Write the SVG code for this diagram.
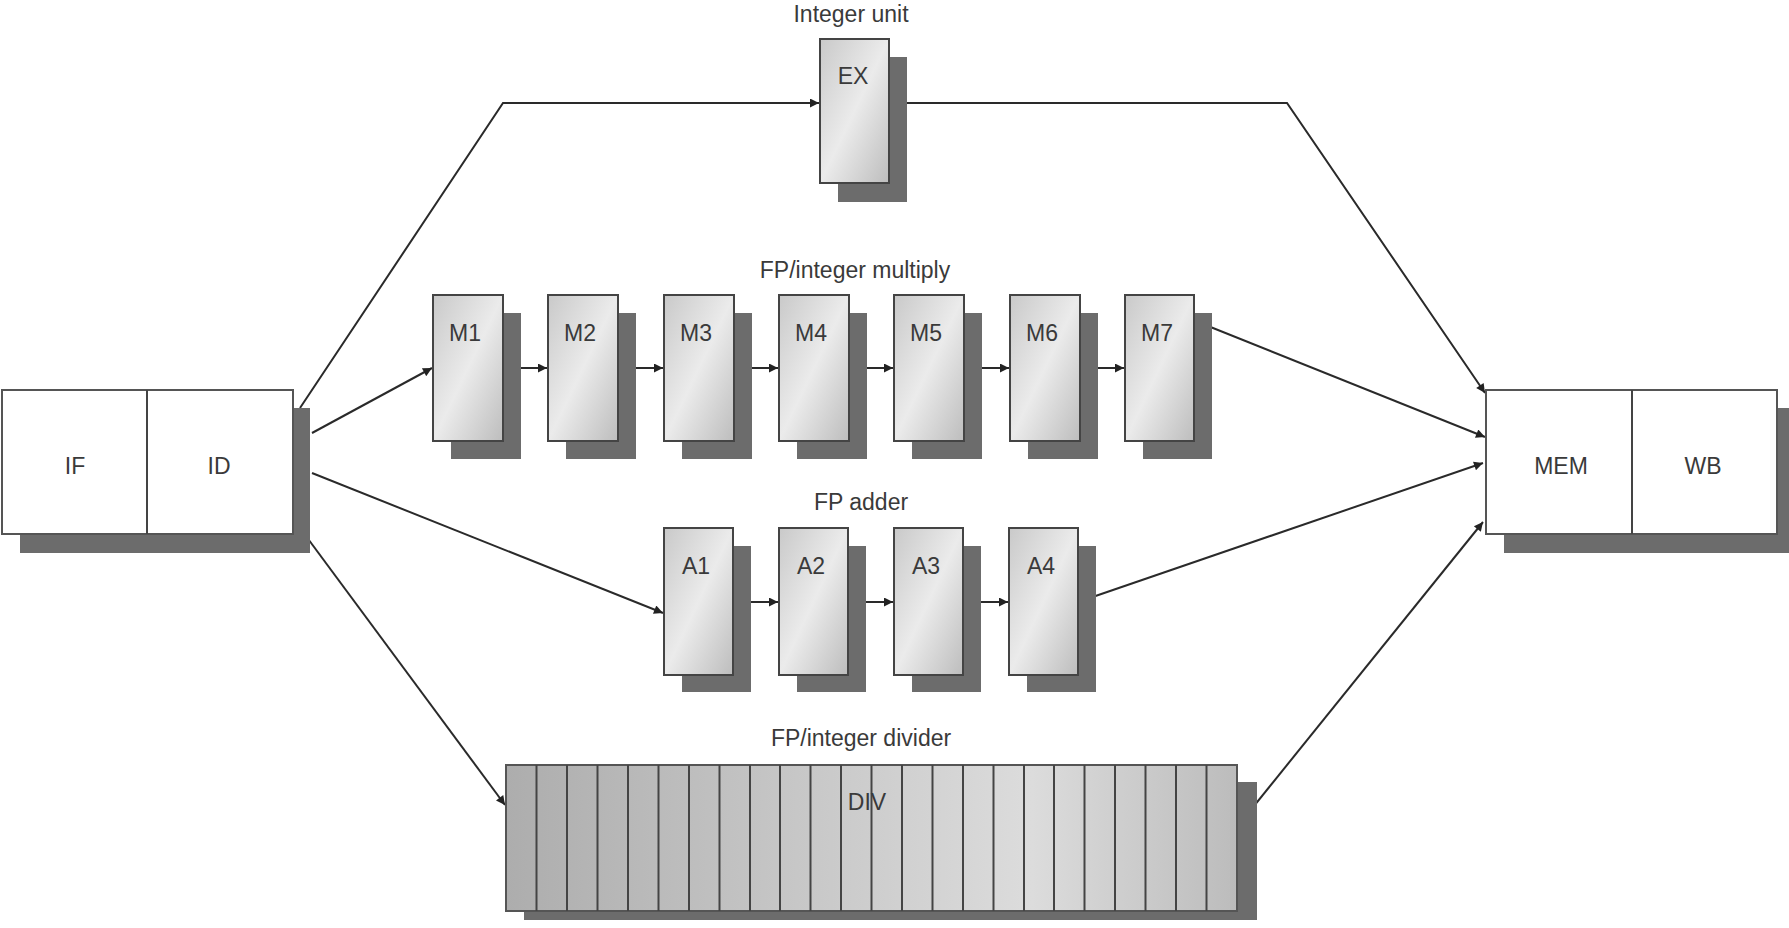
<svg xmlns="http://www.w3.org/2000/svg" width="1789" height="928" viewBox="0 0 1789 928">
<defs>
<linearGradient id="boxg" x1="0" y1="0" x2="1" y2="1">
<stop offset="0" stop-color="#c9c9c9"/>
<stop offset="0.5" stop-color="#ebebeb"/>
<stop offset="1" stop-color="#bdbdbd"/>
</linearGradient>
<linearGradient id="divg" x1="0" y1="0" x2="1" y2="0">
<stop offset="0" stop-color="#adadad"/>
<stop offset="0.72" stop-color="#dcdcdc"/>
<stop offset="1" stop-color="#bcbcbc"/>
</linearGradient>
<marker id="arr" viewBox="0 0 10 10" refX="10" refY="5" markerWidth="16" markerHeight="9" markerUnits="userSpaceOnUse" orient="auto">
<path d="M0,0 L10,5 L0,10 z" fill="#222"/>
</marker>
<style>
.shadow{fill:#6c6c6c}
.unit{fill:url(#boxg);stroke:#444;stroke-width:2}
.plain{fill:#fff;stroke:#555;stroke-width:2}
.div{fill:url(#divg);stroke:#555;stroke-width:2}
.seg{stroke:#444;stroke-width:2}
.conn{fill:none;stroke:#2a2a2a;stroke-width:2;marker-end:url(#arr)}
.line{fill:none;stroke:#2a2a2a;stroke-width:2}
text{font-family:"Liberation Sans",Arial,sans-serif;font-size:23px;fill:#3a3a3a;text-anchor:middle}
</style>
</defs>
<rect width="1789" height="928" fill="#fff"/>

<g id="connectors">
<path class="conn" d="M300,408 L503,103 L819,103"/>
<path class="conn" d="M889,103 L1287,103 L1485,393"/>
<path class="conn" d="M312,433 L432,368"/>
<path class="conn" d="M312,473 L663,613"/>
<path class="conn" d="M300,528 L505,805"/>
<path class="conn" d="M1193,320 L1485,437"/>
<path class="conn" d="M1078,602 L1483,463"/>
<path class="conn" d="M1237,827 L1483,522"/>
<path class="conn" d="M503,368 L547,368"/>
<path class="conn" d="M618,368 L663,368"/>
<path class="conn" d="M734,368 L778,368"/>
<path class="conn" d="M849,368 L893,368"/>
<path class="conn" d="M964,368 L1009,368"/>
<path class="conn" d="M1080,368 L1124,368"/>
<path class="conn" d="M733,602 L778,602"/>
<path class="conn" d="M848,602 L893,602"/>
<path class="conn" d="M963,602 L1008,602"/>
</g>

<g id="ifid">
<rect class="shadow" x="20" y="408" width="290" height="145"/>
<rect class="plain" x="2" y="390" width="291" height="144"/>
<line class="seg" x1="147" y1="390" x2="147" y2="534" stroke="#555"/>
<text x="75" y="474">IF</text>
<text x="219" y="474">ID</text>
</g>

<g id="memwb">
<rect class="shadow" x="1504" y="408" width="285" height="145"/>
<rect class="plain" x="1486" y="390" width="291" height="144"/>
<line class="seg" x1="1632" y1="390" x2="1632" y2="534" stroke="#555"/>
<text x="1561" y="474">MEM</text>
<text x="1703" y="474">WB</text>
</g>

<g id="ex">
<text x="851" y="22">Integer unit</text>
<rect class="shadow" x="838" y="57" width="69" height="145"/>
<rect class="unit" x="820" y="39" width="69" height="144"/>
<text x="853" y="84">EX</text>
</g>

<text x="855" y="278">FP/integer multiply</text>
<g id="m1"><rect class="shadow" x="451" y="313" width="70" height="146"/><rect class="unit" x="433" y="295" width="70" height="146"/><text x="465" y="341">M1</text></g>
<g id="m2"><rect class="shadow" x="566" y="313" width="70" height="146"/><rect class="unit" x="548" y="295" width="70" height="146"/><text x="580" y="341">M2</text></g>
<g id="m3"><rect class="shadow" x="682" y="313" width="70" height="146"/><rect class="unit" x="664" y="295" width="70" height="146"/><text x="696" y="341">M3</text></g>
<g id="m4"><rect class="shadow" x="797" y="313" width="70" height="146"/><rect class="unit" x="779" y="295" width="70" height="146"/><text x="811" y="341">M4</text></g>
<g id="m5"><rect class="shadow" x="912" y="313" width="70" height="146"/><rect class="unit" x="894" y="295" width="70" height="146"/><text x="926" y="341">M5</text></g>
<g id="m6"><rect class="shadow" x="1028" y="313" width="70" height="146"/><rect class="unit" x="1010" y="295" width="70" height="146"/><text x="1042" y="341">M6</text></g>
<g id="m7"><rect class="shadow" x="1143" y="313" width="69" height="146"/><rect class="unit" x="1125" y="295" width="69" height="146"/><text x="1157" y="341">M7</text></g>

<text x="861" y="510">FP adder</text>
<g id="a1"><rect class="shadow" x="682" y="546" width="69" height="146"/><rect class="unit" x="664" y="528" width="69" height="147"/><text x="696" y="574">A1</text></g>
<g id="a2"><rect class="shadow" x="797" y="546" width="69" height="146"/><rect class="unit" x="779" y="528" width="69" height="147"/><text x="811" y="574">A2</text></g>
<g id="a3"><rect class="shadow" x="912" y="546" width="69" height="146"/><rect class="unit" x="894" y="528" width="69" height="147"/><text x="926" y="574">A3</text></g>
<g id="a4"><rect class="shadow" x="1027" y="546" width="69" height="146"/><rect class="unit" x="1009" y="528" width="69" height="147"/><text x="1041" y="574">A4</text></g>

<text x="861" y="746">FP/integer divider</text>
<g id="div">
<rect class="shadow" x="524" y="782" width="733" height="138"/>
<rect class="div" x="506" y="765" width="731" height="146"/>
<g class="seg">
<line x1="536.5" y1="765" x2="536.5" y2="911"/>
<line x1="567" y1="765" x2="567" y2="911"/>
<line x1="597.5" y1="765" x2="597.5" y2="911"/>
<line x1="628" y1="765" x2="628" y2="911"/>
<line x1="658.5" y1="765" x2="658.5" y2="911"/>
<line x1="689" y1="765" x2="689" y2="911"/>
<line x1="719.5" y1="765" x2="719.5" y2="911"/>
<line x1="750" y1="765" x2="750" y2="911"/>
<line x1="780" y1="765" x2="780" y2="911"/>
<line x1="810.5" y1="765" x2="810.5" y2="911"/>
<line x1="841" y1="765" x2="841" y2="911"/>
<line x1="871.5" y1="765" x2="871.5" y2="911"/>
<line x1="902" y1="765" x2="902" y2="911"/>
<line x1="932.5" y1="765" x2="932.5" y2="911"/>
<line x1="963" y1="765" x2="963" y2="911"/>
<line x1="993.5" y1="765" x2="993.5" y2="911"/>
<line x1="1024" y1="765" x2="1024" y2="911"/>
<line x1="1054" y1="765" x2="1054" y2="911"/>
<line x1="1084.5" y1="765" x2="1084.5" y2="911"/>
<line x1="1115" y1="765" x2="1115" y2="911"/>
<line x1="1145.5" y1="765" x2="1145.5" y2="911"/>
<line x1="1176" y1="765" x2="1176" y2="911"/>
<line x1="1206.5" y1="765" x2="1206.5" y2="911"/>
</g>
<text x="867" y="810">DIV</text>
</g>
</svg>
